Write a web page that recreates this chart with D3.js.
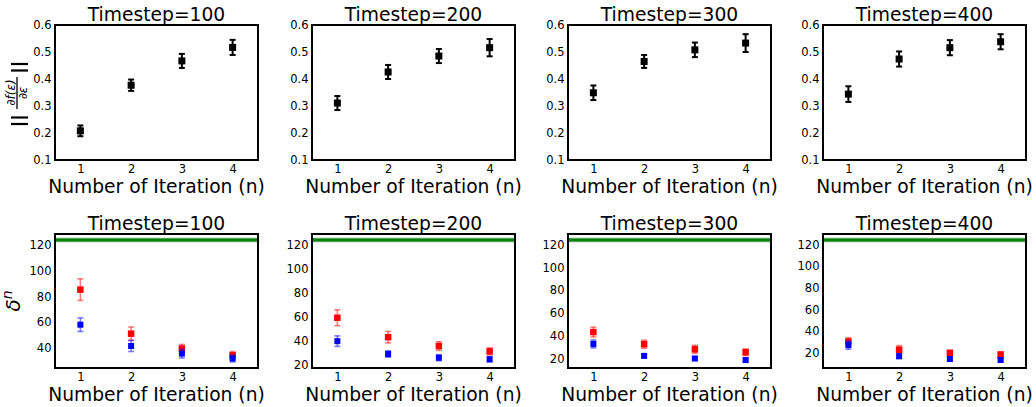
<!DOCTYPE html>
<html>
<head>
<meta charset="utf-8">
<script src="https://cdn.jsdelivr.net/npm/d3@7"></script>
<style>
  body { margin: 0; background: #fff; }
  text { font-family: "DejaVu Sans", sans-serif; fill: #000; }
</style>
</head>
<body>
<svg id="chart" width="1036" height="407"></svg>
<script>
// data
const iterations = [1, 2, 3, 4];
const timesteps = [100, 200, 300, 400];

// top row: gradient norm, mean and error per timestep
const gradMean = [
  [0.208, 0.377, 0.467, 0.517],
  [0.311, 0.426, 0.485, 0.516],
  [0.349, 0.465, 0.508, 0.533],
  [0.344, 0.474, 0.516, 0.538]
];
const gradErr = [
  [0.020, 0.021, 0.026, 0.028],
  [0.026, 0.026, 0.026, 0.032],
  [0.027, 0.024, 0.027, 0.033],
  [0.029, 0.028, 0.028, 0.028]
];

// bottom row: delta^n, red and blue series
const redMean = [
  [85.4, 51.1, 39.5, 34.3],
  [59.3, 43.1, 35.7, 31.3],
  [43.2, 32.5, 28.1, 25.5],
  [30.6, 23.0, 20.0, 18.5]
];
const redErr = [
  [8.4, 5.2, 3.2, 2.8],
  [6.6, 4.8, 3.6, 2.9],
  [4.3, 3.6, 3.5, 2.9],
  [3.5, 3.8, 2.7, 2.7]
];
const blueMean = [
  [58.1, 41.5, 35.6, 31.7],
  [39.8, 29.1, 26.0, 24.7],
  [32.8, 22.3, 20.0, 18.6],
  [27.3, 17.0, 14.5, 13.6]
];
const blueErr = [
  [5.3, 4.3, 3.4, 2.6],
  [4.4, 2.7, 2.5, 2.2],
  [3.5, 1.7, 1.7, 1.6],
  [3.8, 2.0, 2.0, 1.8]
];
const refLevel = 124;   // green horizontal line

const gradTicks = [0.1, 0.2, 0.3, 0.4, 0.5, 0.6];

// layout
const colLeft = [55, 312, 568, 823];
const plotW = 203;
const rows = [{ top: 25, h: 135 }, { top: 234, h: 134 }];

const svg = d3.select("#chart");

function drawPanel(col, row, yScale, tickVals, fmt) {
  const x0 = colLeft[col], r = rows[row];
  const xScale = d3.scaleLinear().domain([0.5, 4.5]).range([0, plotW]);
  const g = svg.append("g").attr("transform", `translate(${x0},${r.top})`);

  // axes (no tick marks, just labels)
  const yAxis = d3.axisLeft(yScale).tickValues(tickVals).tickSize(0).tickPadding(3.5).tickFormat(fmt);
  g.append("g").call(yAxis)
    .call(s => s.select(".domain").remove())
    .selectAll("text").style("font-family", "DejaVu Sans").style("font-size", "11.5px");

  const xAxis = d3.axisBottom(xScale).tickValues(iterations).tickSize(0).tickPadding(5)
    .tickFormat(d3.format("d"));
  g.append("g").attr("transform", `translate(0,${r.h})`).call(xAxis)
    .call(s => s.select(".domain").remove())
    .selectAll("text").style("font-family", "DejaVu Sans").style("font-size", "11.5px");

  // title
  g.append("text")
    .attr("x", plotW / 2).attr("y", -4)
    .attr("text-anchor", "middle")
    .style("font-size", "18.7px")
    .text(`Timestep=${timesteps[col]}`);

  // x label
  g.append("text")
    .attr("x", plotW / 2).attr("y", r.h + 33)
    .attr("text-anchor", "middle")
    .style("font-size", "18.7px")
    .text("Number of Iteration (n)");

  return { g, xScale };
}

function drawErrorPoints(g, xScale, yScale, means, errs, color, barOpacity, size, barWidth) {
  const pts = iterations.map((it, i) => ({ x: it, y: means[i], e: errs[i] }));
  const cap = 3;
  const eb = g.append("g")
    .attr("stroke", color)
    .attr("stroke-opacity", barOpacity)
    .attr("stroke-width", barWidth);
  eb.selectAll("line.v").data(pts).join("line")
    .attr("x1", d => xScale(d.x)).attr("x2", d => xScale(d.x))
    .attr("y1", d => yScale(d.y - d.e)).attr("y2", d => yScale(d.y + d.e));
  eb.selectAll("line.lo").data(pts).join("line")
    .attr("x1", d => xScale(d.x) - cap).attr("x2", d => xScale(d.x) + cap)
    .attr("y1", d => yScale(d.y - d.e)).attr("y2", d => yScale(d.y - d.e));
  eb.selectAll("line.hi").data(pts).join("line")
    .attr("x1", d => xScale(d.x) - cap).attr("x2", d => xScale(d.x) + cap)
    .attr("y1", d => yScale(d.y + d.e)).attr("y2", d => yScale(d.y + d.e));
  g.append("g").selectAll("rect").data(pts).join("rect")
    .attr("x", d => xScale(d.x) - size / 2)
    .attr("y", d => yScale(d.y) - size / 2)
    .attr("width", size).attr("height", size)
    .attr("fill", color);
}

function frame(g, h) {
  g.append("rect")
    .attr("width", plotW).attr("height", h)
    .attr("fill", "none").attr("stroke", "#000").attr("stroke-width", 2);
}

// top row
timesteps.forEach((t, c) => {
  const yScale = d3.scaleLinear().domain([0.1, 0.6]).range([rows[0].h, 0]);
  const { g, xScale } = drawPanel(c, 0, yScale, gradTicks, d3.format(".1f"));
  drawErrorPoints(g, xScale, yScale, gradMean[c], gradErr[c], "#000", 1, 7, 2);
  frame(g, rows[0].h);
});

// bottom row: autoscale like matplotlib (5% margin around data + line)
timesteps.forEach((t, c) => {
  const lows = iterations.map((_, i) => Math.min(redMean[c][i] - redErr[c][i], blueMean[c][i] - blueErr[c][i]));
  const highs = iterations.map((_, i) => Math.max(redMean[c][i] + redErr[c][i], blueMean[c][i] + blueErr[c][i]));
  const lo = d3.min(lows), hi = Math.max(d3.max(highs), refLevel);
  const pad = (hi - lo) * 0.05;
  const yScale = d3.scaleLinear().domain([lo - pad, hi + pad]).range([rows[1].h, 0]);
  const { g, xScale } = drawPanel(c, 1, yScale, yScale.ticks(5), d3.format("d"));

  g.append("line")
    .attr("x1", 0).attr("x2", plotW)
    .attr("y1", yScale(refLevel)).attr("y2", yScale(refLevel))
    .attr("stroke", "#8cc48c").attr("stroke-width", 4.5);
  g.append("line")
    .attr("x1", 0).attr("x2", plotW)
    .attr("y1", yScale(refLevel)).attr("y2", yScale(refLevel))
    .attr("stroke", "#108010").attr("stroke-width", 3);

  drawErrorPoints(g, xScale, yScale, redMean[c], redErr[c], "#ff0000", 0.5, 6.5, 1.6);
  drawErrorPoints(g, xScale, yScale, blueMean[c], blueErr[c], "#0000ff", 0.5, 6, 1.6);
  frame(g, rows[1].h);
});

// y label, top row: ||∂f(ε)/∂ε||
const yl = svg.append("g").attr("transform", "translate(17,94) rotate(-90)");
yl.append("line").attr("x1", -15).attr("x2", 17).attr("y1", 0).attr("y2", 0)
  .attr("stroke", "#000").attr("stroke-width", 1.3);
yl.append("text").attr("x", 1.5).attr("y", -2).attr("text-anchor", "middle")
  .style("font-size", "12px").style("font-style", "italic").text("∂f(ε)");
yl.append("text").attr("x", 1).attr("y", 10).attr("text-anchor", "middle")
  .style("font-size", "12px").style("font-style", "italic").text("∂ε");
[-30, -23.5, 23.5, 30].forEach(bx => {
  yl.append("line").attr("x1", bx).attr("x2", bx).attr("y1", -6).attr("y2", 11)
    .attr("stroke", "#000").attr("stroke-width", 2.2);
});

// y label, bottom row: δ^n
const dl = svg.append("text")
  .attr("transform", "translate(20,301) rotate(-90)")
  .attr("text-anchor", "middle")
  .style("font-size", "20px").style("font-style", "italic");
dl.append("tspan").text("δ");
dl.append("tspan").attr("dy", -8).style("font-size", "14px").text("n");
</script>
</body>
</html>
